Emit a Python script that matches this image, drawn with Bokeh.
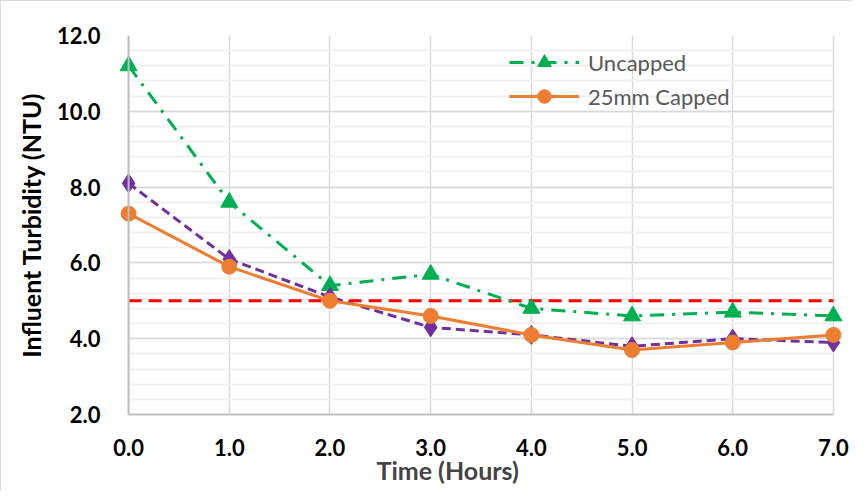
from bokeh.plotting import figure
from bokeh.models import (Range1d, SingleIntervalTicker, NumeralTickFormatter, Span,
                          Legend, LegendItem, Title)
from bokeh.embed import file_html
from bokeh.resources import INLINE

hours = [0, 1, 2, 3, 4, 5, 6, 7]
uncapped = [11.2, 7.6, 5.4, 5.7, 4.8, 4.6, 4.7, 4.6]
capped_25mm = [7.3, 5.9, 5.0, 4.6, 4.1, 3.7, 3.9, 4.1]
series_purple = [8.1, 6.1, 5.1, 4.3, 4.1, 3.8, 4.0, 3.9]
limit_ntu = 5.0

FONT = "Lato"

p = figure(width=852, height=490, output_backend="svg", toolbar_location=None,
           x_range=Range1d(-0.12, 7.12), y_range=Range1d(2, 12),
           min_border_left=115, min_border_right=8, min_border_top=34, min_border_bottom=77)
p.outline_line_color = None
p.styles = {"border-left": "1px solid #d9d9d9", "border-top": "1px solid #d9d9d9",
            "box-sizing": "border-box"}

p.xaxis.ticker = SingleIntervalTicker(interval=1, num_minor_ticks=0)
p.yaxis.ticker = SingleIntervalTicker(interval=2, num_minor_ticks=5)
for ax in (p.xaxis[0], p.yaxis[0]):
    ax.formatter = NumeralTickFormatter(format="0.0")
    ax.major_tick_line_color = None
    ax.minor_tick_line_color = None
    ax.major_label_text_font = FONT
    ax.major_label_text_font_style = "bold"
    ax.major_label_text_font_size = "22px"
    ax.major_label_text_color = "#000000"
    ax.axis_label_text_font = FONT
    ax.axis_label_text_font_style = "bold"
    ax.axis_label_text_font_size = "25px"
    ax.axis_label_text_color = "#000000"
p.xaxis.bounds = (0, 7)
p.xaxis.axis_line_color = "#bfbfbf"
p.xaxis.axis_line_width = 2
p.xaxis.major_label_standoff = 18
p.yaxis.axis_line_color = None
p.yaxis.major_label_standoff = 10
p.yaxis.axis_label = "Influent Turbidity (NTU)"
p.yaxis.axis_label_standoff = 8

p.add_layout(Title(text="Time (Hours)", align="left", offset=260, text_font=FONT,
                   text_font_style="bold", text_font_size="25px", standoff=-11), "below")

p.xgrid.grid_line_color = "#d9d9d9"
p.xgrid.grid_line_width = 1.5
p.ygrid.grid_line_color = "#d9d9d9"
p.ygrid.grid_line_width = 1.5
p.ygrid.minor_grid_line_color = "#f0f0f0"
p.ygrid.minor_grid_line_width = 2
try:
    p.ygrid.cross_bounds = (0, 7)
except Exception:
    pass

p.add_layout(Span(location=0, dimension="height", line_color="#bfbfbf", line_width=2))

p.line([hours[0], hours[-1]], [limit_ntu, limit_ntu], line_color="#ff0000",
       line_width=3, line_dash="13 7")

g_line = p.line(hours, uncapped, line_color="#00b050", line_width=3, line_dash="14 8 3 8")
g_mark = p.scatter(hours, uncapped, marker="triangle", size=17, fill_color="#00b050",
                   line_color="#00b050")
pu_line = p.line(hours, series_purple, line_color="#7030a0", line_width=3, line_dash="9 5")
pu_mark = p.scatter(hours, series_purple, marker="diamond", size=19, fill_color="#7030a0",
                    line_color="#7030a0")
o_line = p.line(hours, capped_25mm, line_color="#ed7d31", line_width=3)
o_mark = p.scatter(hours, capped_25mm, marker="circle", size=15, fill_color="#ed7d31",
                   line_color="#ed7d31")

legend = Legend(items=[LegendItem(label="Uncapped", renderers=[g_line, g_mark]),
                       LegendItem(label="25mm Capped", renderers=[o_line, o_mark])],
                location=(393, 301), padding=0, margin=0, spacing=0,
                glyph_width=70, glyph_height=34, label_height=34, label_standoff=9,
                label_text_font=FONT, label_text_font_size="22px",
                label_text_color="#595959", border_line_color=None,
                background_fill_alpha=0)
p.add_layout(legend)

open("out.html", "w").write(file_html(p, INLINE))
